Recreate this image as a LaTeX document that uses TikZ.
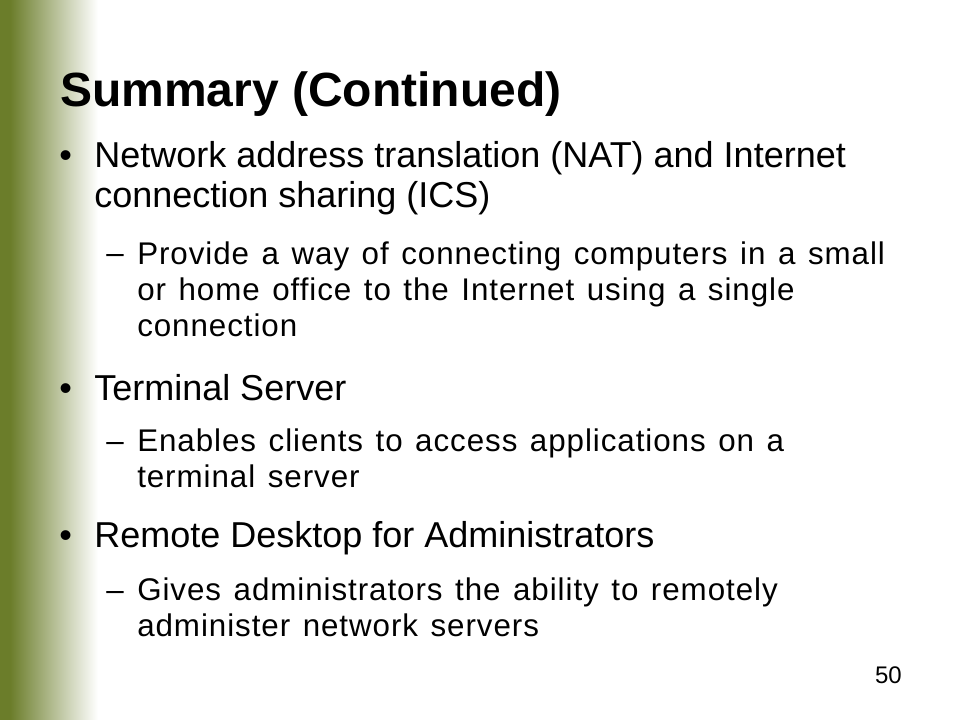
\documentclass[tikz,border=0pt]{standalone}
\usepackage{fontspec}
\setmainfont{Liberation Sans}
\newfontfamily\subfont[WordSpace=1.3,LetterSpace=3]{Liberation Sans}
\usetikzlibrary{positioning}
\definecolor{olivebar}{RGB}{107,125,42}
\definecolor{olivefade}{RGB}{192,199,178}

\begin{document}
\begin{tikzpicture}[x=0.75pt, y=-0.75pt,
    titletext/.style={anchor=base west, inner sep=0pt, font=\fontsize{36}{40}\selectfont\bfseries},
    itemtext/.style={anchor=base west, inner sep=0pt, align=left, font=\fontsize{27}{30}\selectfont},
    subtext/.style={anchor=base west, inner sep=0pt, align=left, font=\fontsize{23.5}{27}\selectfont\subfont},
    marktext/.style={anchor=base west, inner sep=0pt}]
      % Sizes
      \def\W{960}   % slide width
      \def\H{720}   % slide height
      \def\barw{10} % solid part of the side bar
      \def\fadew{98}

      % Slide background
      \fill[white] (0,0) rectangle (\W,\H);
      \useasboundingbox (0,0) rectangle (\W,\H);

      % Side bar fading into white
      \fill[olivebar] (0,0) rectangle (\barw,\H);
      \shade[left color=olivebar, middle color=olivefade, right color=white] (\barw,0) rectangle (\fadew,\H);

      % Title
      \node[titletext] (title) at (60,107) {Summary (Continued)};

      % First bullet (multi-line nodes sit on their last baseline)
      \node[itemtext] (b1) at (59,168) {•};
      \node[itemtext] (nat) at (94,208) {Network address translation (NAT) and Internet\\connection sharing (ICS)};
      \node[subtext] (d1) at (106,264) {–};
      \node[subtext] (natsub) at (137,336) {Provide a way of connecting computers in a small\\or home office to the Internet using a single\\connection};

      % Second bullet
      \node[itemtext] (b2) at (59,400) {•};
      \node[itemtext] (ts) at (94,400) {Terminal Server};
      \node[subtext] (d2) at (106,451) {–};
      \node[subtext] (tssub) at (137,487) {Enables clients to access applications on a\\terminal server};

      % Third bullet
      \node[itemtext] (b3) at (59,547) {•};
      \node[itemtext] (rd) at (94,547) {Remote Desktop for Administrators};
      \node[subtext] (d3) at (106,600) {–};
      \node[subtext] (rdsub) at (137,636) {Gives administrators the ability to remotely\\administer network servers};

      % Slide number
      \node[marktext, anchor=base east, font=\fontsize{18}{20}\selectfont] (num) at (902,683) {50};
\end{tikzpicture}
\end{document}
